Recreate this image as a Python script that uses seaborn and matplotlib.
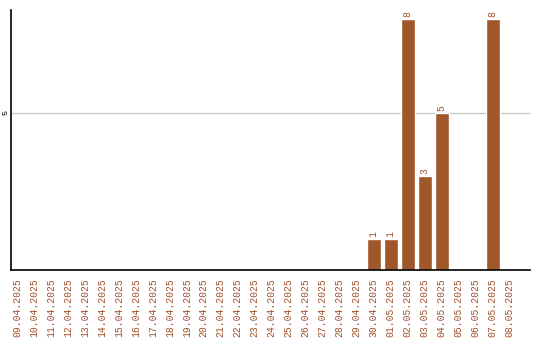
import matplotlib
matplotlib.use("Agg")
import matplotlib.pyplot as plt
import seaborn as sns
import pandas as pd

dates = ["09.04.2025", "10.04.2025", "11.04.2025", "12.04.2025", "13.04.2025",
         "14.04.2025", "15.04.2025", "16.04.2025", "17.04.2025", "18.04.2025",
         "19.04.2025", "20.04.2025", "21.04.2025", "22.04.2025", "23.04.2025",
         "24.04.2025", "25.04.2025", "26.04.2025", "27.04.2025", "28.04.2025",
         "29.04.2025", "30.04.2025", "01.05.2025", "02.05.2025", "03.05.2025",
         "04.05.2025", "05.05.2025", "06.05.2025", "07.05.2025", "08.05.2025"]
counts = [0, 0, 0, 0, 0, 0, 0, 0, 0, 0,
          0, 0, 0, 0, 0, 0, 0, 0, 0, 0,
          0, 1, 1, 8, 3, 5, 0, 0, 8, 0]

sns.set_theme(style="white")
plt.rcParams['font.family'] = ['Liberation Mono', 'DejaVu Sans Mono']

df = pd.DataFrame({"date": dates, "count": counts})

fig = plt.figure(figsize=(5.4, 3.4), dpi=100)
ax = fig.add_axes([11/540, 70/340, 519/540, 260/340])
bar_color = "#A0572A"
sns.barplot(data=df, x="date", y="count", color=bar_color, width=0.82,
            saturation=1, ax=ax)

ax.set_xlim(-0.35, 30.2)
ax.set_ylim(0, 8.28)
ax.set_yticks([5])
ax.set_yticklabels(["5"], rotation=90, va="center", fontsize=6, color="black")
ax.yaxis.grid(True, color="#c8c8c8", linewidth=1)
ax.set_axisbelow(True)
ax.tick_params(axis="y", length=0, pad=1)
ax.tick_params(axis="x", length=0, pad=6)
ax.set_xticks(range(len(dates)))
ax.set_xticklabels(dates, rotation=90, fontsize=7, color="#A0522D")
ax.set_xlabel("")
ax.set_ylabel("")
for s in ["top", "right"]:
    ax.spines[s].set_visible(False)
for s in ["left", "bottom"]:
    ax.spines[s].set_color("black")
    ax.spines[s].set_linewidth(1.2)

for i, v in enumerate(counts):
    if v > 0:
        ax.text(i, v + 0.06, str(v), rotation=90, ha="center", va="bottom",
                fontsize=7, color="#A0522D")

fig.savefig("out.png", dpi=100)
